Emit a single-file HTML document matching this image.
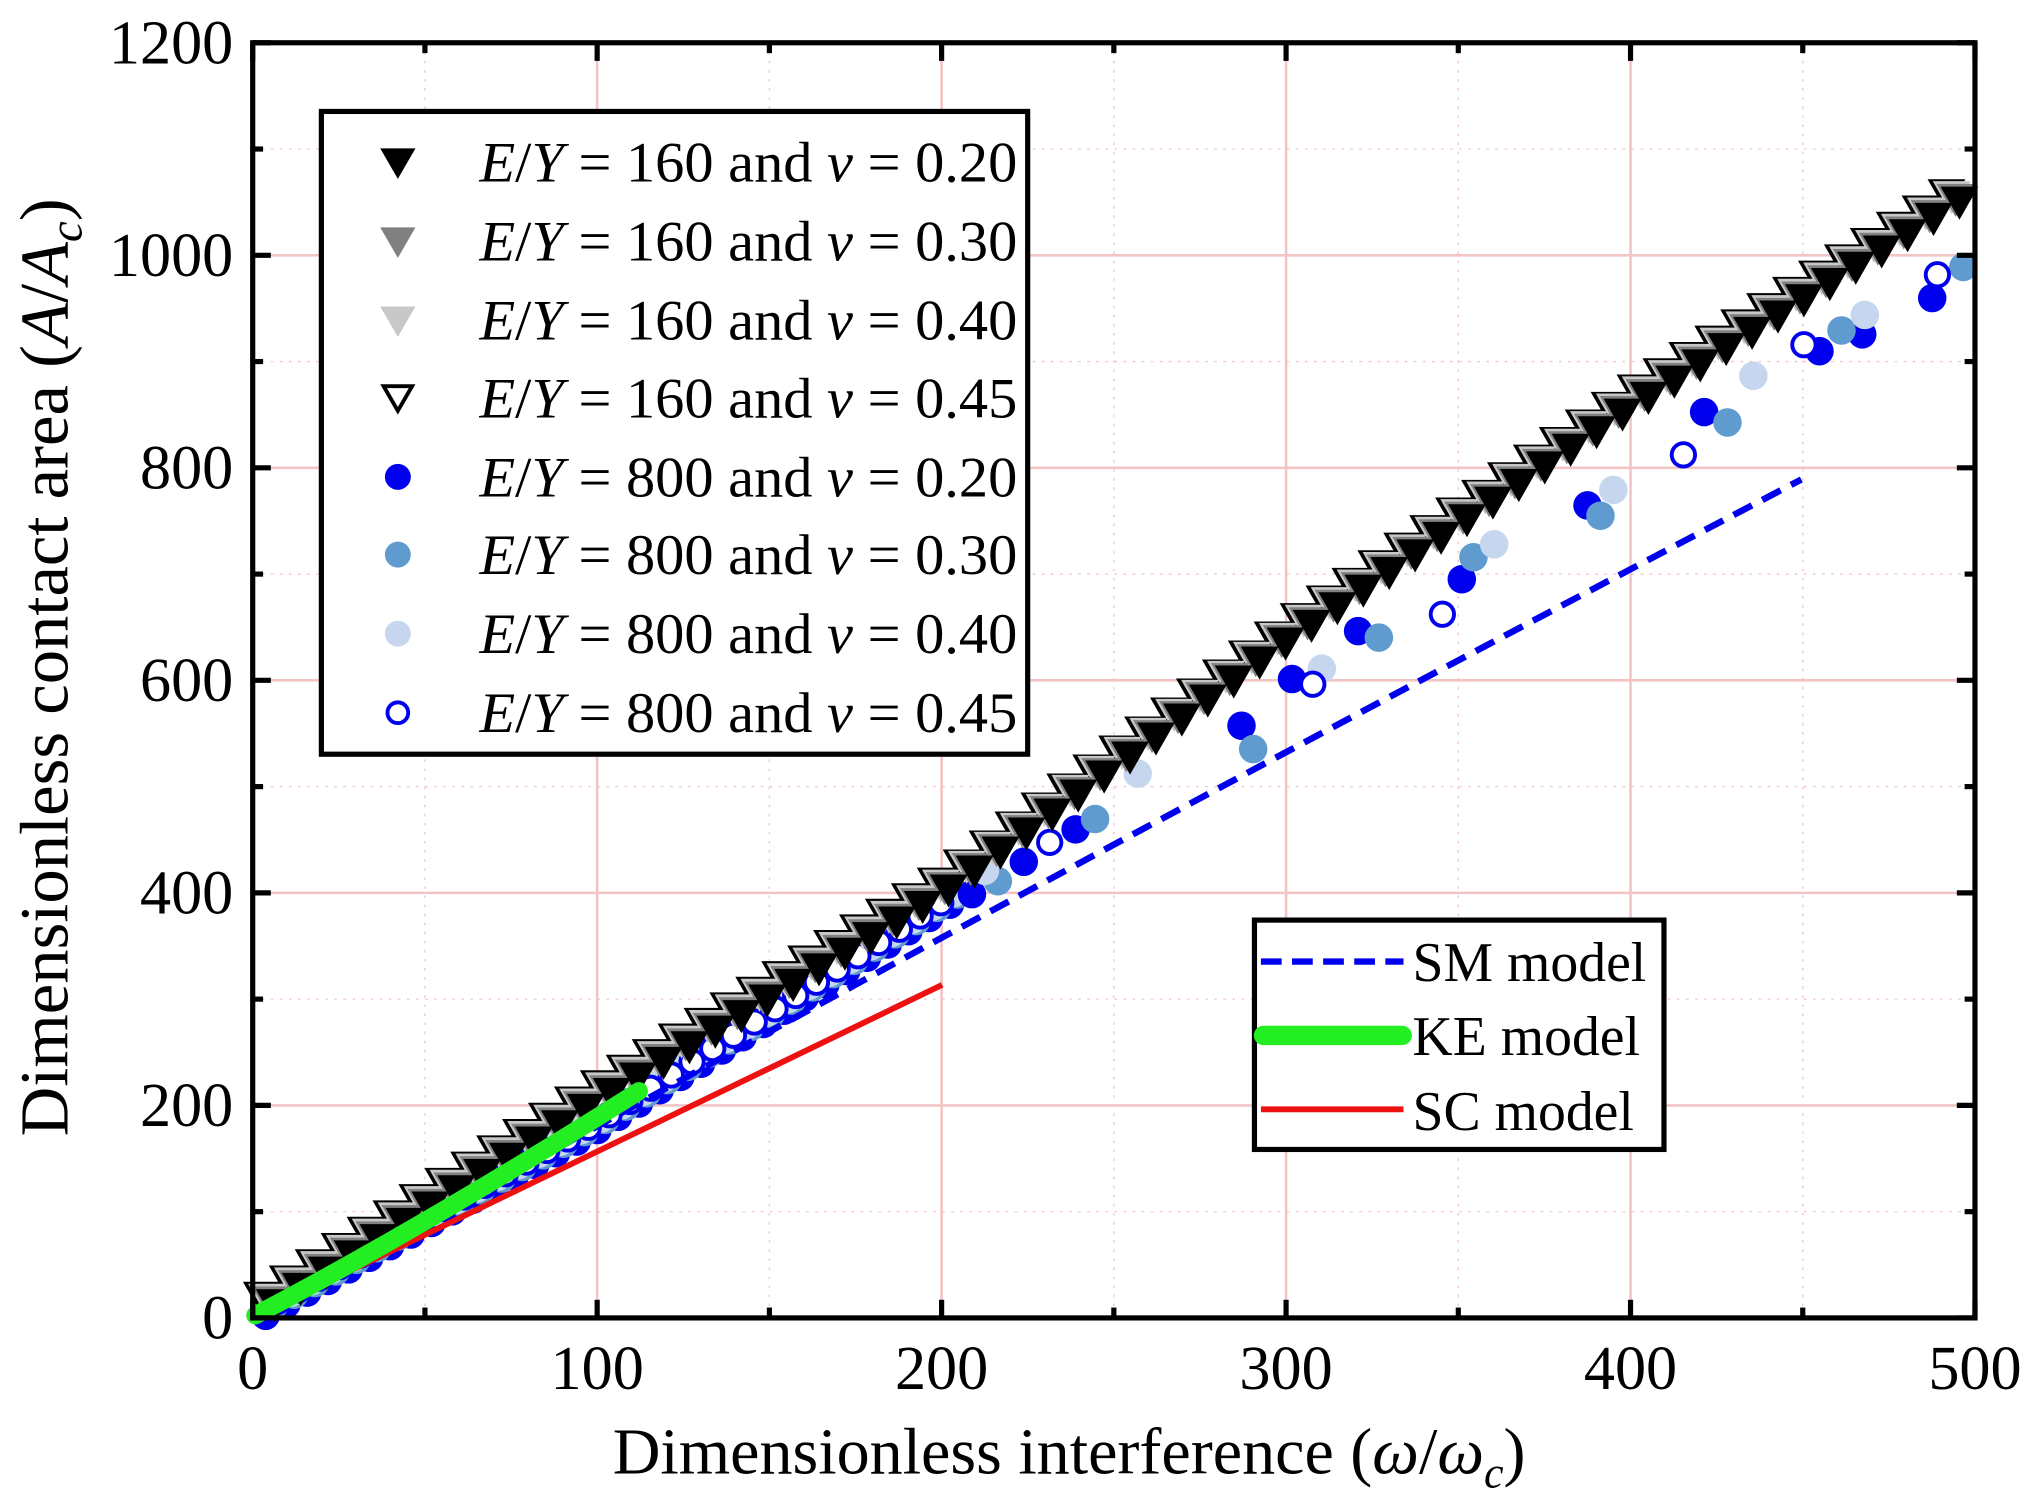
<!DOCTYPE html>
<html><head><meta charset="utf-8"><style>
html,body{margin:0;padding:0;background:#fff;}
svg{display:block;}
text{font-family:"Liberation Serif",serif;fill:#000;}
</style></head><body>
<svg id="s" width="2032" height="1500" viewBox="0 0 1568 1157.5" preserveAspectRatio="none" xmlns="http://www.w3.org/2000/svg">
<rect x="0" y="0" width="1568" height="1158" fill="#fff"/>
<g id="grid"></g>
<g id="data"></g>
<rect x="195" y="33" width="1329" height="984" fill="none" stroke="#000" stroke-width="4"/>
<g id="ticks"></g>
<g id="lbl" font-size="48"></g>
<text x="825" y="1137" font-size="51" text-anchor="middle">Dimensionless interference (<tspan font-style="italic">ω</tspan>/<tspan font-style="italic">ω</tspan><tspan font-style="italic" font-size="34" dy="11">c</tspan><tspan dy="-11">)</tspan></text>
<text transform="translate(52,515) rotate(-90)" font-size="53" text-anchor="middle">Dimensionless contact area (<tspan font-style="italic">A</tspan>/<tspan font-style="italic">A</tspan><tspan font-style="italic" font-size="36" dy="11">c</tspan><tspan dy="-11">)</tspan></text>
<g id="leg1">
<rect x="248" y="86" width="545" height="496" fill="#fff" stroke="#000" stroke-width="4"/>
</g>
<g id="leg2">
<rect x="968" y="710" width="316" height="177" fill="#fff" stroke="#000" stroke-width="4"/>
<line x1="973" y1="742" x2="1083" y2="742" stroke="#0000ee" stroke-width="5" stroke-dasharray="16,8"/>
<line x1="975" y1="799" x2="1082" y2="799" stroke="#22ee22" stroke-width="15" stroke-linecap="round"/>
<line x1="973" y1="856" x2="1083" y2="856" stroke="#ee1111" stroke-width="4.5"/>
<text x="1090" y="757" font-size="43">SM model</text>
<text x="1090" y="814" font-size="43">KE model</text>
<text x="1090" y="872" font-size="43">SC model</text>
</g>
</svg>
<script>
var NS="http://www.w3.org/2000/svg";
function el(p,t,a){var e=document.createElementNS(NS,t);for(var k in a)e.setAttribute(k,a[k]);p.appendChild(e);return e;}
var X=function(v){return 195+v*2.658;}, Y=function(v){return 1017-v*0.82;};
var g=document.getElementById('grid'),tk=document.getElementById('ticks'),lb=document.getElementById('lbl');
for(var v=50;v<500;v+=50){var x=X(v);el(g,'line',{x1:x,y1:33,x2:x,y2:1017,stroke:'#f3c4c4','stroke-width':v%100?1:2,'stroke-dasharray':v%100?'2,5':''});}
for(var v=100;v<1200;v+=100){var y=Y(v);el(g,'line',{x1:195,y1:y,x2:1524,y2:y,stroke:'#f3c4c4','stroke-width':v%200?1:2,'stroke-dasharray':v%200?'2,5':''});}
for(var v=0;v<=500;v+=50){var x=X(v),L=v%100?8:14;el(tk,'line',{x1:x,y1:1017,x2:x,y2:1017-L,stroke:'#000','stroke-width':4});el(tk,'line',{x1:x,y1:33,x2:x,y2:33+L,stroke:'#000','stroke-width':4});
 if(v%100==0){var t=el(lb,'text',{x:x,y:1072,'text-anchor':'middle'});t.textContent=v;}}
for(var v=0;v<=1200;v+=100){var y=Y(v),L=v%200?8:14;el(tk,'line',{x1:195,y1:y,x2:195+L,y2:y,stroke:'#000','stroke-width':4});el(tk,'line',{x1:1524,y1:y,x2:1524-L,y2:y,stroke:'#000','stroke-width':4});
 if(v%200==0){var t=el(lb,'text',{x:180,y:y+16,'text-anchor':'end'});t.textContent=v;}}
var d=document.getElementById('data');
function interp(pts,x){for(var i=0;i<pts.length-1;i++){if(x<=pts[i+1][0]){var a=pts[i],b=pts[i+1];return a[1]+(b[1]-a[1])*(x-a[0])/(b[0]-a[0]);}}return pts[pts.length-1][1];}
function tri(x,y,fill,stroke){el(d,'path',{d:'M'+(x-12)+','+(y-10)+'L'+(x+12)+','+(y-10)+'L'+x+','+(y+11)+'Z',fill:fill,stroke:stroke,'stroke-width':3,'stroke-linejoin':'miter'});}
function circ(x,y,fill,stroke){el(d,'circle',{cx:x,cy:y,r:fill=='#fff'?9:11,fill:fill,stroke:stroke,'stroke-width':fill=='#fff'?3:0});}
var T=[[195,1017],[461,850],[727,690],[993,495],[1258,315],[1524,148]];
var C=[[195,1017],[461,868],[727,698],[860,612]];
var cs=[['#0000ee','#0000ee',0,4],['#5f9bcf','#5f9bcf',6,0],['#c5d6ee','#c5d6ee',3,-3],['#fff','#0000ee',9,-2]];
cs.forEach(function(c){for(var x=205+c[2];x<740;x+=16){circ(x,interp(C,x)+c[3],c[0],c[1]);}});
el(d,'path',{d:'M195,1017 Q760,700 1390,370',fill:'none',stroke:'#0000ee','stroke-width':5,'stroke-dasharray':'16,9'});
el(d,'line',{x1:195,y1:1017,x2:727,y2:760,stroke:'#ee1111','stroke-width':4.5});
[[750,690],[790,665],[830,640],[958,560],[997,524],[1048,487],[1128,447],[1225,390],[1315,318],[1404,271],[1437,258],[1491,230]].forEach(function(p){circ(p[0],p[1],'#0000ee','#0000ee');});
[[770,680],[845,632],[967,578],[1064,492],[1137,430],[1235,398],[1333,326],[1421,255],[1515,206]].forEach(function(p){circ(p[0],p[1],'#5f9bcf','#5f9bcf');});
[[760,672],[878,597],[1020,516],[1153,420],[1245,378],[1353,290],[1439,243]].forEach(function(p){circ(p[0],p[1],'#c5d6ee','#c5d6ee');});
[[810,650],[1013,528],[1113,474],[1299,351],[1392,266],[1495,212]].forEach(function(p){circ(p[0],p[1],'#fff','#0000ee');});
var ts=[['#fff','#000',-10,-12],['#c8c8c8','#c8c8c8',-6,-8],['#808080','#808080',-3,-4],['#000','#000',0,0]];
ts.forEach(function(s){for(var x=212+s[2];x<1520;x+=20){tri(x,interp(T,x)+s[3],s[0],s[1]);}});
el(d,'path',{d:'M197,1015 Q330,945 493,842',fill:'none',stroke:'#22ee22','stroke-width':14,'stroke-linecap':'round'});
var l1=document.getElementById('leg1');
var labs=['160','160','160','160','800','800','800','800'],nus=['0.20','0.30','0.40','0.45','0.20','0.30','0.40','0.45'];
var ys=[125,186,247,307,368,428,489,550];
for(var i=0;i<8;i++){var y=ys[i];
 if(i<4){var f=[['#000','#000'],['#808080','#808080'],['#c8c8c8','#c8c8c8'],['#fff','#000']][i];
  el(l1,'path',{d:'M296,'+(y-9)+'L318,'+(y-9)+'L307,'+(y+10)+'Z',fill:f[0],stroke:f[1],'stroke-width':3});}
 else{var f=[['#0000ee',0],['#5f9bcf',0],['#c5d6ee',0],['#fff',1]][i-4];
  if(f[1])el(l1,'circle',{cx:307,cy:y,r:8,fill:'#fff',stroke:'#0000ee','stroke-width':3});else el(l1,'circle',{cx:307,cy:y,r:10,fill:f[0]});}
 var t=el(l1,'text',{x:370,y:y+15,'font-size':44,textLength:415,lengthAdjust:'spacingAndGlyphs'});
 t.innerHTML='<tspan font-style="italic">E</tspan>/<tspan font-style="italic">Y</tspan> = '+labs[i]+' and  <tspan font-style="italic">ν</tspan> = '+nus[i];
}
</script>
</body></html>
